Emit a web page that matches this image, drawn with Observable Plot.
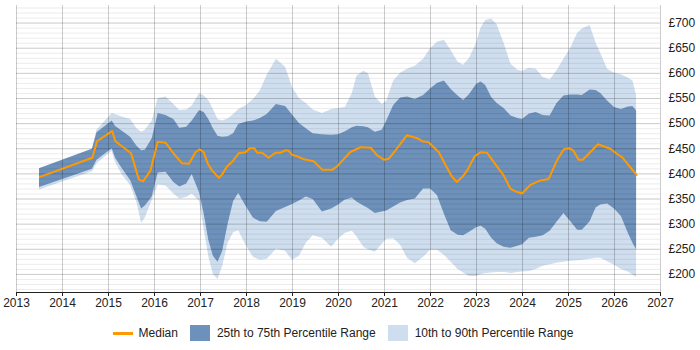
<!DOCTYPE html>
<html>
<head>
<meta charset="utf-8">
<script src="https://cdn.jsdelivr.net/npm/d3@7"></script>
<script src="https://cdn.jsdelivr.net/npm/@observablehq/plot@0.6"></script>
<style>
  html, body { margin: 0; padding: 0; background: #fff; }
  body { width: 700px; height: 350px; overflow: hidden; font-family: "Liberation Sans", Arial, sans-serif; }
  #legend { display: flex; justify-content: center; align-items: center; height: 30px; font-size: 12px; color: #222; padding-right: 14px; }
  .item { display: flex; align-items: center; margin: 0 6px; }
  .sw-line { width: 20px; height: 3px; background: #ff9900; margin-right: 6px; }
  .sw-box { width: 20px; height: 16px; margin-right: 7px; }
</style>
</head>
<body>
<div id="chart"></div>
<div id="legend"></div>
<script>
// ---- Data (decimal years, £ day rate) ----
const yearTicks = [2013, 2014, 2015, 2016, 2017, 2018, 2019, 2020, 2021, 2022, 2023, 2024, 2025, 2026, 2027];
const priceTicks = [200, 250, 300, 350, 400, 450, 500, 550, 600, 650, 700];

const medianDates = [2013.51, 2014.65, 2014.75, 2015.08, 2015.15, 2015.49, 2015.66, 2015.75, 2015.91, 2016.07,
  2016.24, 2016.42, 2016.6, 2016.75, 2016.89, 2016.98, 2017.07, 2017.16, 2017.25, 2017.4,
  2017.47, 2017.58, 2017.69, 2017.83, 2017.98, 2018.07, 2018.17, 2018.23, 2018.34, 2018.48,
  2018.63, 2018.74, 2018.85, 2018.92, 2018.99, 2019.1, 2019.25, 2019.46, 2019.65, 2019.86,
  2019.97, 2020.25, 2020.48, 2020.7, 2020.84, 2020.99, 2021.09, 2021.24, 2021.49, 2021.71,
  2021.82, 2021.96, 2022.07, 2022.18, 2022.33, 2022.47, 2022.57, 2022.69, 2022.8, 2022.96,
  2023.09, 2023.23, 2023.38, 2023.59, 2023.74, 2023.85, 2023.99, 2024.17, 2024.39, 2024.57,
  2024.75, 2024.9, 2025.01, 2025.1, 2025.22, 2025.31, 2025.44, 2025.64, 2025.91, 2026.02,
  2026.17, 2026.31, 2026.48];
const medianValues = [394, 432, 465, 485, 465, 441, 389, 385, 406, 464,
  462, 440, 421, 420, 443, 449, 443, 420, 407, 392,
  399, 415, 424, 441, 443, 451, 451, 442, 442, 432,
  442, 442, 447, 446, 438, 435, 429, 425, 408, 408,
  415, 443, 453, 452, 437, 428, 430, 447, 477, 471,
  465, 463, 453, 443, 417, 394, 384, 394, 407, 435,
  443, 442, 423, 397, 370, 365, 361, 378, 387, 390,
  427, 449, 451, 447, 428, 428, 440, 459, 450, 442,
  433, 417, 398];

const bandDates = [2013.5, 2014.65, 2014.75, 2015.08, 2015.15, 2015.3, 2015.48, 2015.62, 2015.72, 2015.8,
  2015.95, 2016.08, 2016.25, 2016.42, 2016.55, 2016.7, 2016.82, 2016.98, 2017.08, 2017.18,
  2017.28, 2017.38, 2017.48, 2017.6, 2017.72, 2017.83, 2018.0, 2018.15, 2018.3, 2018.45,
  2018.65, 2018.85, 2019.0, 2019.15, 2019.3, 2019.45, 2019.65, 2019.85, 2020.0, 2020.15,
  2020.3, 2020.4, 2020.55, 2020.65, 2020.8, 2020.95, 2021.05, 2021.2, 2021.35, 2021.5,
  2021.67, 2021.85, 2022.0, 2022.15, 2022.3, 2022.45, 2022.6, 2022.72, 2022.85, 2023.0,
  2023.1, 2023.2, 2023.33, 2023.45, 2023.6, 2023.75, 2023.9, 2024.0, 2024.15, 2024.3,
  2024.45, 2024.6, 2024.75, 2024.9, 2025.05, 2025.2, 2025.3, 2025.47, 2025.6, 2025.7,
  2025.85, 2026.0, 2026.15, 2026.3, 2026.4, 2026.48];
const p90Values = [410, 449, 487, 520, 518, 513, 508, 490, 483, 487,
  505, 550, 553, 538, 526, 527, 535, 560, 555, 546,
  528, 508, 505, 509, 518, 528, 536, 548, 565, 596,
  628, 612, 572, 550, 540, 527, 520, 528, 530, 532,
  560, 594, 604, 599, 553, 538, 545, 585, 600, 608,
  614, 628, 649, 662, 666, 645, 622, 616, 630, 660,
  690, 705, 708, 696, 660, 618, 606, 604, 610, 608,
  592, 587, 605, 628, 650, 680, 688, 695, 660, 640,
  608, 600, 597, 591, 585, 556];
const p75Values = [410, 449, 482, 505, 495, 485, 473, 455, 446, 447,
  470, 520, 516, 508, 491, 493, 505, 526, 522, 508,
  490, 475, 473, 474, 480, 498, 503, 505, 510, 518,
  538, 534, 517, 500, 490, 480, 478, 477, 478, 484,
  492, 495, 494, 492, 483, 487, 505, 536, 551, 553,
  548, 556, 569, 580, 585, 568, 555, 546, 558, 578,
  583, 576, 552, 540, 530, 515, 510, 508, 519, 522,
  516, 515, 540, 555, 557, 557, 556, 567, 566, 560,
  545, 532, 528, 533, 534, 525];
const p25Values = [373, 409, 427, 450, 432, 410, 387, 354, 330, 336,
  354, 402, 403, 383, 374, 380, 399, 362, 320, 268,
  236, 224, 245, 300, 345, 361, 334, 312, 305, 304,
  325, 333, 339, 346, 354, 349, 324, 330, 338, 348,
  352, 344, 336, 331, 321, 324, 326, 334, 342, 347,
  350, 370, 370, 357, 320, 287, 278, 277, 284, 293,
  296, 290, 272, 261, 254, 252, 256, 259, 272, 274,
  277, 286, 304, 321, 305, 288, 288, 305, 332, 338,
  340, 330, 315, 282, 262, 249];
const p10Values = [368, 404, 420, 445, 423, 398, 377, 342, 302, 312,
  347, 378, 376, 360, 350, 353, 360, 345, 290, 235,
  200, 190, 215, 262, 283, 287, 256, 234, 228, 230,
  250, 246, 228, 236, 262, 277, 272, 254, 270, 282,
  286, 275, 254, 249, 244, 260, 270, 271, 258, 232,
  221, 234, 248, 248, 238, 224, 210, 203, 196, 196,
  200, 202, 203, 204, 204, 202, 204, 205, 206, 210,
  216, 219, 222, 224, 226, 227, 228, 230, 232, 232,
  225, 218, 210, 205, 199, 194];

const seriesNames = ["Median", "25th to 75th Percentile Range", "10th to 90th Percentile Range"];
const colors = { median: "#ff9900", inner: "#6d91ba", outer: "#cfdeee" };

// ---- Tables built from the arrays ----
const medianRows = medianDates.map((d, i) => ({ date: d, value: medianValues[i] }));
const bandRows = bandDates.map((d, i) => ({ date: d, p10: p10Values[i], p25: p25Values[i], p75: p75Values[i], p90: p90Values[i] }));
const minorGrid = d3.range(170, 740, 10);

const chart = Plot.plot({
  width: 700,
  height: 318,
  marginTop: 5,
  marginBottom: 26,
  marginLeft: 16,
  marginRight: 40,
  style: { fontFamily: "'Liberation Sans', Arial, sans-serif", fontSize: "12px", color: "#222", background: "#fff" },
  x: { domain: [2013, 2027], ticks: yearTicks, tickFormat: d => String(d), tickSize: 4, tickPadding: 2, line: true, label: null },
  y: { domain: [164, 735], axis: "right", ticks: priceTicks, tickFormat: d => "£" + d, tickSize: 0, tickPadding: 8, label: null },
  marks: [
    Plot.areaY(bandRows, { x: "date", y1: "p10", y2: "p90", fill: colors.outer, curve: "linear" }),
    Plot.areaY(bandRows, { x: "date", y1: "p25", y2: "p75", fill: colors.inner, curve: "linear" }),
    Plot.ruleY(minorGrid, { stroke: "#000", strokeOpacity: 0.08 }),
    Plot.ruleY(priceTicks, { stroke: "#000", strokeOpacity: 0.14 }),
    Plot.ruleX(yearTicks, { stroke: "#000", strokeOpacity: 0.2 }),
    Plot.lineY(medianRows, { x: "date", y: "value", stroke: colors.median, strokeWidth: 2, curve: "linear" })
  ]
});
document.getElementById("chart").appendChild(chart);

// ---- Legend ----
const legend = document.getElementById("legend");
const swatches = [
  { cls: "sw-line", color: colors.median },
  { cls: "sw-box", color: colors.inner },
  { cls: "sw-box", color: colors.outer }
];
seriesNames.forEach((name, i) => {
  const item = document.createElement("div");
  item.className = "item";
  const sw = document.createElement("span");
  sw.className = swatches[i].cls;
  sw.style.background = swatches[i].color;
  item.appendChild(sw);
  const t = document.createElement("span");
  t.textContent = name;
  item.appendChild(t);
  legend.appendChild(item);
});
</script>
</body>
</html>
